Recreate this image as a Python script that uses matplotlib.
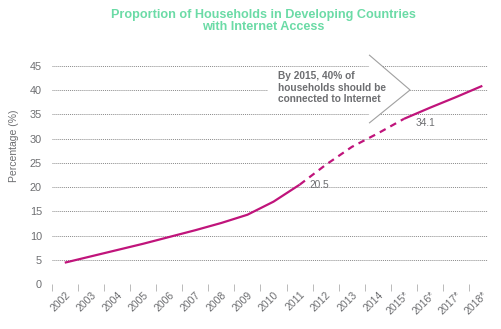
import numpy as np
import matplotlib.pyplot as plt
from matplotlib.patches import Polygon, Rectangle

years = ["2002", "2003", "2004", "2005", "2006", "2007", "2008", "2009",
         "2010", "2011", "2012", "2013", "2014", "2015*", "2016*", "2017*", "2018*"]
actual = [4.4, 5.7, 7.0, 8.3, 9.7, 11.1, 12.6, 14.3, 17.0, 20.5]
estimate = [20.5, 24.6, 28.3, 31.1, 34.1]
forecast = [34.1, 36.4, 38.6, 40.9]

magenta = "#c0147b"
grey = "#6d6e71"
plt.rcParams['font.family'] = ['Liberation Sans', 'DejaVu Sans']

fig = plt.figure(figsize=(5.01, 3.29), dpi=100)
ax = fig.add_axes([0.1032, 0.1368, 0.871, 0.6626])

x = np.arange(len(years))
ax.plot(x[:10], actual, color=magenta, lw=1.6, solid_capstyle='butt')
ax.plot(x[9:14], estimate, color=magenta, lw=1.6, dashes=(3, 2.4))
ax.plot(x[13:], forecast, color=magenta, lw=1.6, solid_capstyle='butt')

ax.annotate(f"{actual[-1]}", (x[9], actual[-1]), xytext=(7, 0), textcoords='offset points',
            va='center', ha='left', fontsize=7.3, color=grey)
ax.annotate(f"{estimate[-1]}", (x[13], estimate[-1]), xytext=(8, -3), textcoords='offset points',
            va='center', ha='left', fontsize=7.3, color=grey)

ax.set_xlim(-0.5, 16.22)
ax.set_ylim(0, 45)
ax.set_yticks(np.arange(0, 46, 5))
ax.yaxis.grid(True, color='#8a8a8a', lw=0.7, linestyle=(0, (1, 1)))
ax.set_axisbelow(True)
for s in ax.spines.values():
    s.set_visible(False)
ax.tick_params(axis='y', length=0, pad=7, labelsize=7.8, labelcolor=grey)

# band edges carry the tick marks, centres carry the year labels
ax.set_xticks(np.arange(-0.5, 16, 1))
ax.set_xticklabels([])
ax.tick_params(axis='x', which='major', length=5, width=0.6, color='#b0b0b0')
ax.set_xticks(x, minor=True)
ax.set_xticklabels(years, minor=True, rotation=45, ha='right', va='top',
                   rotation_mode='anchor', fontsize=7.5, color=grey)
ax.tick_params(axis='x', which='minor', length=0, pad=4)

# callout box with chevron
ax.add_patch(Rectangle((7.8, 35.9), 3.86, 8.4, facecolor='white', edgecolor='none', zorder=2))
ax.add_patch(Polygon([(11.66, 47.3), (13.23, 40.05), (11.66, 33.2)], closed=False,
                     facecolor='white', edgecolor='#a0a0a0', lw=0.8, zorder=2, clip_on=False))
ax.text(8.17, 40.5, "By 2015, 40% of\nhouseholds should be\nconnected to Internet",
        fontsize=7.3, fontweight='bold', color=grey, va='center', ha='left',
        linespacing=1.2, zorder=3)

fig.text(14 / 501, 1 - 146 / 329, "Percentage (%)", rotation=90, ha='center', va='center',
         fontsize=7.5, color=grey)
fig.text(263 / 501, 1 - 21 / 329,
         "Proportion of Households in Developing Countries\nwith Internet Access",
         ha='center', va='center', fontsize=9.1, fontweight='bold', color='#6bdba6',
         linespacing=1.1)

fig.savefig("out.png", dpi=100)
